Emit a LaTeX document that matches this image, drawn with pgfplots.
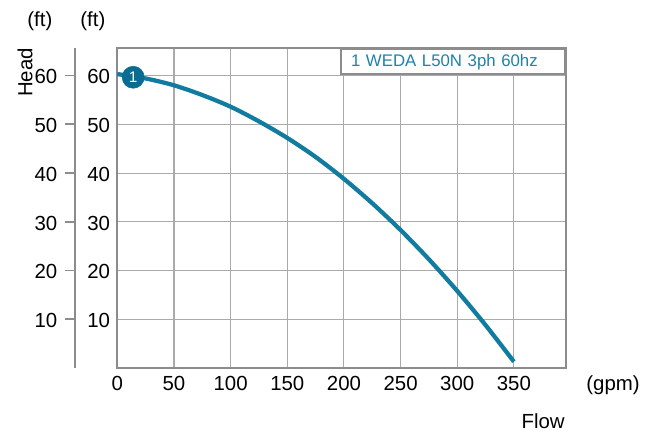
\documentclass[border=0pt]{standalone}
\usepackage{fontspec}
\setmainfont{Liberation Sans}
\usepackage{pgfplots}
\pgfplotsset{compat=1.18}

\definecolor{curve}{RGB}{18,124,160}
\definecolor{dot}{RGB}{10,108,145}
\definecolor{labtxt}{RGB}{30,130,170}
\definecolor{frame}{RGB}{140,140,140}
\definecolor{gridc}{RGB}{170,170,170}

\begin{document}
\begin{tikzpicture}[font=\fontsize{15.3}{17}\selectfont]
% pump curve
\begin{axis}[
    at={(0,0)}, anchor=south west,
    scale only axis,
    width=336.5pt, height=239.8pt,
    xmin=0, xmax=396, ymin=0, ymax=65.6,
    xtick={0,50,...,350},
    ytick={10,20,...,60},
    major tick length=0pt,
    grid=major,
    major grid style={draw=gridc, line width=0.8pt},
    axis line style={draw=frame, line width=1.5pt},
    /pgf/number format/assume math mode=true,
    xticklabel style={inner sep=0pt, anchor=north, yshift=-6.3pt},
    yticklabel style={inner sep=0pt, anchor=east, xshift=-5.3pt, yshift=-1pt},
    clip=false,
]
\addplot[curve, line width=3.2pt, smooth] coordinates {
    (0,60.3) (25,59.4) (50,58.0) (75,56.0) (100,53.6) (125,50.6)
    (150,47.2) (175,43.3) (200,38.8) (225,33.8) (250,28.3)
    (275,22.3) (300,15.8) (325,8.8) (350,1.3)
};
\addplot[only marks, mark=*, mark size=8.25pt,
    mark options={fill=dot, draw=dot},
    point meta=explicit symbolic, nodes near coords,
    every node near coord/.append style={anchor=center, text=white,
        inner sep=0pt, font=\fontsize{11.5}{12}\selectfont}]
    coordinates {(14,59.65)[1]};
\node[draw=frame, line width=1.5pt, fill=white, anchor=north east,
    minimum height=18.75pt, text width=153pt, inner xsep=7.5pt,
    inner ysep=0pt, align=left, text=labtxt,
    font=\fontsize{12.6}{14}\selectfont]
    at (rel axis cs:1,1) {1 WEDA L50N 3ph 60hz};
\end{axis}

% outer head scale
\begin{axis}[
    at={(-32.1pt,0)}, anchor=south west,
    scale only axis,
    width=10pt, height=239.8pt,
    xmin=0, xmax=1, ymin=0, ymax=65.6,
    axis x line=none, axis y line=left,
    axis line style={draw=frame, line width=1.5pt, -},
    ytick={10,20,...,60},
    tick align=outside, major tick length=7.5pt,
    tick style={draw=frame, line width=1.2pt},
    /pgf/number format/assume math mode=true,
    yticklabel style={inner sep=0pt, anchor=east, xshift=-5.25pt, yshift=-1pt},
]
\addplot[draw=none] coordinates {(0,0)};
\end{axis}

\node[anchor=base east] at (-45.2pt,256pt) {(ft)};
\node[anchor=base east] at (-5.5pt,256pt) {(ft)};
\node[rotate=90] at (-69.2pt,221.6pt) {Head};
\node[anchor=base] at (371.8pt,-16.5pt) {(gpm)};
\node[anchor=base] at (319.3pt,-45pt) {Flow};

\pgfresetboundingbox
\path[use as bounding box] (-88pt,-48pt) rectangle (404pt,276pt);
\end{tikzpicture}
\end{document}
